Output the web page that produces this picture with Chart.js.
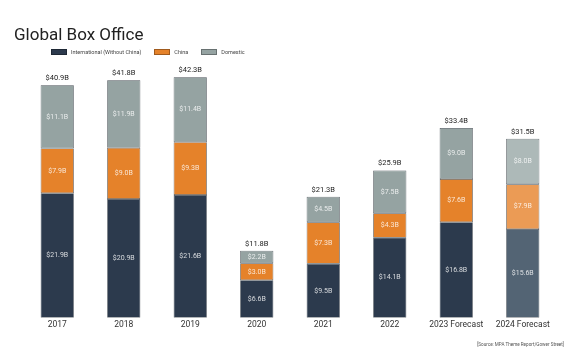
<!DOCTYPE html>
<html>
<head>
<meta charset="utf-8">
<script src="https://cdn.jsdelivr.net/npm/chart.js@4.4.0/dist/chart.umd.min.js"></script>
<style>
    body { margin: 0; background: #fff; font-family: Roboto, sans-serif; }
    #wrap { position: relative; width: 570px; height: 361px; }
    #title { position: absolute; left: 14px; top: 24px; font-size: 17px; line-height: 20px; color: #222; }
    #legend { position: absolute; left: 51px; top: 49px; font-size: 5.5px; line-height: 6px; color: #444; display: flex; }
    #legend span.item { display: flex; align-items: center; margin-right: 13px; }
    #legend span.box { width: 14px; height: 4px; margin-right: 4px; display: inline-block; border: 0.5px solid rgba(0,0,0,0.3); }
    #source { position: absolute; right: 6px; top: 342px; font-size: 4.6px; color: #555; }
    canvas { position: absolute; left: 0; top: 0; }
</style>
</head>
<body>
<div id="wrap">
    <canvas id="boxChart" width="570" height="361"></canvas>
    <div id="title">Global Box Office</div>
    <div id="legend"></div>
    <div id="source">[Source: MPA Theme Report/Gower Street]</div>
</div>
<script>
const years = ['2017', '2018', '2019', '2020', '2021', '2022', '2023 Forecast', '2024 Forecast'];
const international = [21.9, 20.9, 21.6, 6.6, 9.5, 14.1, 16.8, 15.6];
const china = [7.9, 9.0, 9.3, 3.0, 7.3, 4.3, 7.6, 7.9];
const domestic = [11.1, 11.9, 11.4, 2.2, 4.5, 7.5, 9.0, 8.0];
const totals = [40.9, 41.8, 42.3, 11.8, 21.3, 25.9, 33.4, 31.5];

const seriesNames = ['International (Without China)', 'China', 'Domestic'];
const seriesColors = ['#2c3a4d', '#e5822a', '#95a3a2'];
// last bar (2024 forecast) is drawn lighter
const lightColors = ['#536474', '#eb9b55', '#adb9b8'];

function colorsFor(i) {
    return years.map((y, k) => k === years.length - 1 ? lightColors[i] : seriesColors[i]);
}

// legend in html
const legend = document.getElementById('legend');
seriesNames.forEach((name, i) => {
    legend.innerHTML += `<span class="item"><span class="box" style="background:${seriesColors[i]}"></span>${name}</span>`;
});

// value labels inside segments + totals on top
const labelPlugin = {
    id: 'labels',
    afterDatasetsDraw(chart) {
        const ctx = chart.ctx;
        ctx.save();
        ctx.textAlign = 'center';
        ctx.textBaseline = 'middle';
        chart.data.datasets.forEach((ds, i) => {
            const meta = chart.getDatasetMeta(i);
            meta.data.forEach((bar, k) => {
                const mid = (bar.y + bar.base) / 2;
                ctx.font = '7px Roboto';
                ctx.fillStyle = 'rgba(255,255,255,0.8)';
                ctx.fillText('$' + ds.data[k].toFixed(1) + 'B', bar.x, mid);
            });
        });
        const top = chart.getDatasetMeta(2);
        top.data.forEach((bar, k) => {
            ctx.font = '7.5px Roboto';
            ctx.fillStyle = '#222';
            ctx.fillText('$' + totals[k].toFixed(1) + 'B', bar.x, bar.y - 7);
        });
        ctx.restore();
    }
};

const ctx = document.getElementById('boxChart').getContext('2d');
const chart = new Chart(ctx, {
    type: 'bar',
    data: {
        labels: years,
        datasets: [international, china, domestic].map((d, i) => ({
            label: seriesNames[i],
            data: d,
            backgroundColor: colorsFor(i),
            borderColor: '#4a5058',
            borderWidth: 0.7,
            borderSkipped: false,
            barPercentage: 0.5,
            categoryPercentage: 1.0
        }))
    },
    options: {
        responsive: false,
        animation: false,
        layout: {
            padding: { left: 24, right: 14, top: 62, bottom: 29 }
        },
        plugins: {
            legend: { display: false },
            tooltip: { enabled: false }
        },
        scales: {
            x: {
                stacked: true,
                grid: { display: false, drawTicks: false, tickLength: 0 },
                border: { display: false },
                ticks: {
                    color: '#333',
                    font: { family: 'Roboto', size: 8.5 },
                    padding: 2
                }
            },
            y: {
                stacked: true,
                display: false,
                min: 0,
                max: 45
            }
        }
    },
    plugins: [labelPlugin]
});
</script>
</body>
</html>
